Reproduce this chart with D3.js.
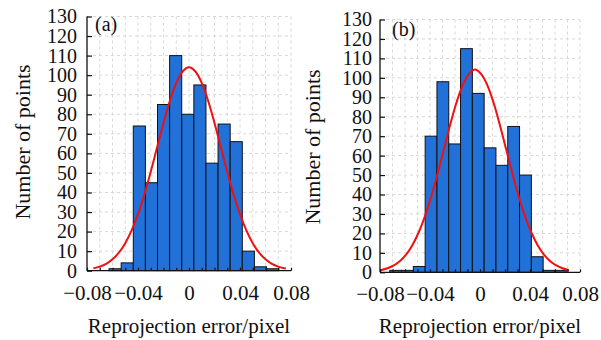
<!DOCTYPE html>
<html>
<head>
<meta charset="utf-8">
<script src="https://cdn.jsdelivr.net/npm/d3@7"></script>
<style>
    body { margin: 0; background: #fff; }
    text { font-family: "Liberation Serif", "Times New Roman", serif; fill: #111; }
</style>
</head>
<body>
<div id="chart"></div>
<script>
// histogram counts
const countsA = [1, 4, 74, 45, 85, 110, 80, 95, 55, 75, 66, 10, 2, 1];
const binStartA = -0.0627;
const binWidthA = 0.0095;

const countsB = [1, 1, 3, 70, 98, 66, 115, 92, 64, 55, 75, 50, 8, 1, 1];
const binStartB = -0.0722;
const binWidthB = 0.00944;

// fitted curve points
const fitXA = [-0.075, -0.07, -0.065, -0.06, -0.055, -0.05, -0.045, -0.04, -0.035, -0.03, -0.025, -0.02, -0.015, -0.01, -0.005, 0,
    0.005, 0.01, 0.015, 0.02, 0.025, 0.03, 0.035, 0.04, 0.045, 0.05, 0.055, 0.06, 0.065, 0.07, 0.076];
const fitYA = [1.2, 2.1, 3.5, 5.8, 9.2, 14.1, 20.6, 28.9, 39.0, 50.6, 63.1, 75.5, 86.9, 96.0, 101.9, 104,
    101.9, 96.0, 86.9, 75.5, 63.1, 50.6, 39.0, 28.9, 20.6, 14.1, 9.2, 5.8, 3.5, 2.1, 1.1];

const fitXB = [-0.0795, -0.074, -0.069, -0.064, -0.059, -0.054, -0.049, -0.044, -0.039, -0.034, -0.029, -0.024, -0.019, -0.014, -0.009, -0.004,
    0.001, 0.006, 0.011, 0.016, 0.021, 0.026, 0.031, 0.036, 0.041, 0.046, 0.051, 0.056, 0.061, 0.066, 0.071];
const fitYB = [1.1, 2.1, 3.5, 5.8, 9.2, 14.1, 20.6, 28.9, 39.0, 50.6, 63.1, 75.5, 86.9, 96.0, 101.9, 104.3,
    101.9, 96.0, 86.9, 75.5, 63.1, 50.6, 39.0, 28.9, 20.6, 14.1, 9.2, 5.8, 3.5, 2.1, 1.1];

const xTicks = [-0.08, -0.04, 0, 0.04, 0.08];
const xGrid = [-0.08, -0.07, -0.06, -0.05, -0.04, -0.03, -0.02, -0.01, 0, 0.01, 0.02, 0.03, 0.04, 0.05, 0.06, 0.07, 0.08];
const yTicks = [0, 10, 20, 30, 40, 50, 60, 70, 80, 90, 100, 110, 120, 130];

const xLabel = "Reprojection error/pixel";
const yLabel = "Number of points";

const svg = d3.select('#chart')
    .append('svg')
    .attr('width', 601)
    .attr('height', 340);

const drawPanel = cfg => {
    const x = d3.scaleLinear().domain([-0.08, 0.08]).range([cfg.left, cfg.right]);
    const y = d3.scaleLinear().domain([0, 130]).range([cfg.bottom, cfg.top]);

    const g = svg.append('g');

    // dashed grid
    g.append('g').selectAll('line')
        .data(xGrid.slice(1))
        .enter()
        .append('line')
        .attr('x1', d => x(d)).attr('x2', d => x(d))
        .attr('y1', cfg.top).attr('y2', cfg.bottom)
        .style('stroke', '#d8d8d8')
        .style('stroke-dasharray', '3 3');

    g.append('g').selectAll('line')
        .data(yTicks.slice(1))
        .enter()
        .append('line')
        .attr('x1', cfg.left).attr('x2', cfg.right)
        .attr('y1', d => y(d)).attr('y2', d => y(d))
        .style('stroke', '#d8d8d8')
        .style('stroke-dasharray', '3 3');

    // bars
    g.append('g').selectAll('rect')
        .data(cfg.counts)
        .enter()
        .append('rect')
        .attr('x', (d, i) => x(cfg.binStart + i * cfg.binWidth))
        .attr('width', x(cfg.binWidth) - x(0))
        .attr('y', d => y(d))
        .attr('height', d => y(0) - y(d))
        .style('fill', '#2271d8')
        .style('stroke', '#111')
        .style('stroke-width', 1);

    // fitted curve
    const line = d3.line()
        .x(d => x(d[0]))
        .y(d => y(d[1]))
        .curve(d3.curveCatmullRom);

    g.append('path')
        .datum(cfg.fitX.map((v, i) => [v, cfg.fitY[i]]))
        .attr('d', line)
        .style('fill', 'none')
        .style('stroke', '#f01010')
        .style('stroke-width', 2);

    // axes
    const yAxis = d3.axisLeft(y).tickValues(yTicks).tickSize(-5).tickPadding(cfg.yPad);
    const xAxis = d3.axisBottom(x).tickValues(xGrid).tickSize(-3).tickPadding(14)
        .tickFormat(d => xTicks.some(t => Math.abs(t - d) < 1e-9) ? (Math.abs(d) < 1e-9 ? '0' : d3.format('.2f')(d)) : '');

    const ya = g.append('g').attr('transform', `translate(${cfg.left},0)`).call(yAxis);
    const xa = g.append('g').attr('transform', `translate(0,${cfg.bottom})`).call(xAxis);

    [ya, xa].forEach(a => {
        a.select('.domain').style('stroke', '#111').style('stroke-width', 1.3);
        a.selectAll('.tick line').style('stroke', '#111').style('stroke-width', 1.2);
        a.selectAll('.tick text')
            .style('font-family', '"Liberation Serif", "Times New Roman", serif')
            .style('fill', '#111');
    });
    ya.selectAll('.tick text').style('font-size', '20px');
    xa.selectAll('.tick text').style('font-size', '21px').attr('dy', '0.71em');
    ya.select('.domain').attr('d', `M0,${cfg.bottom}V${cfg.top}`);
    xa.select('.domain').attr('d', `M${cfg.left},0H${cfg.right}`);

    // titles
    g.append('text')
        .attr('x', (cfg.left + cfg.right) / 2)
        .attr('y', 333)
        .attr('text-anchor', 'middle')
        .style('font-size', '21px')
        .text(xLabel);

    g.append('text')
        .attr('transform', `translate(${cfg.yTitleX},${cfg.yTitleY}) rotate(-90)`)
        .attr('text-anchor', 'middle')
        .style('font-size', '22px')
        .text(yLabel);

    g.append('text')
        .attr('x', cfg.left + cfg.tagDx)
        .attr('y', cfg.tagY)
        .style('font-size', '20px')
        .text(cfg.tag);
};

drawPanel({
    left: 87, right: 291, top: 16.5, bottom: 270.7,
    counts: countsA, binStart: binStartA, binWidth: binWidthA,
    fitX: fitXA, fitY: fitYA,
    yPad: 10, yTitleX: 30, yTitleY: 142, tag: '(a)', tagDx: 8, tagY: 31
});

drawPanel({
    left: 380, right: 580, top: 19.5, bottom: 272.3,
    counts: countsB, binStart: binStartB, binWidth: binWidthB,
    fitX: fitXB, fitY: fitYB,
    yPad: 8, yTitleX: 320, yTitleY: 147, tag: '(b)', tagDx: 12, tagY: 36
});
</script>
</body>
</html>
